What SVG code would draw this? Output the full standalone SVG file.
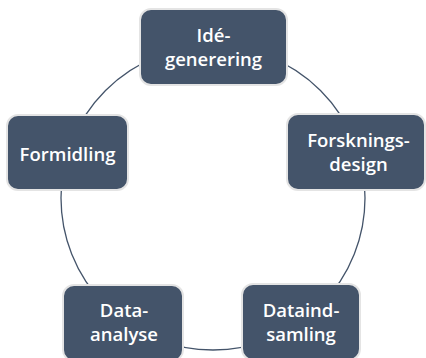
<svg xmlns="http://www.w3.org/2000/svg" width="426" height="358" viewBox="0 0 426 358">
<style>
.box{fill:#44546a;stroke:#e4e4e4;stroke-width:2}
.lbl{font-family:"Open Sans","Noto Sans",sans-serif;font-weight:600;font-size:18.5px;fill:#ffffff;text-anchor:middle}
.conn{fill:none;stroke:#44546a;stroke-width:1.3}
</style>
<rect width="426" height="358" fill="#ffffff"/>
<g id="connectors">
<circle class="conn" cx="213" cy="198" r="152"/>
</g>
<g id="n1">
<rect class="box" x="140" y="9" width="147" height="76" rx="11"/>
<text class="lbl" x="213.5" y="41.5">Idé-</text>
<text class="lbl" x="213.5" y="65.5">generering</text>
</g>
<g id="n2">
<rect class="box" x="287" y="114" width="138" height="76" rx="11"/>
<text class="lbl" x="358.5" y="147">Forsknings-</text>
<text class="lbl" x="358.5" y="171">design</text>
</g>
<g id="n3">
<rect class="box" x="242" y="284" width="118" height="76" rx="11"/>
<text class="lbl" x="301" y="316.5">Dataind-</text>
<text class="lbl" x="301" y="340.5">samling</text>
</g>
<g id="n4">
<rect class="box" x="63" y="285" width="120" height="76" rx="11"/>
<text class="lbl" x="124" y="316.5">Data-</text>
<text class="lbl" x="124" y="340.5">analyse</text>
</g>
<g id="n5">
<rect class="box" x="7" y="115" width="121" height="75" rx="11"/>
<text class="lbl" x="67.5" y="161">Formidling</text>
</g>
</svg>
